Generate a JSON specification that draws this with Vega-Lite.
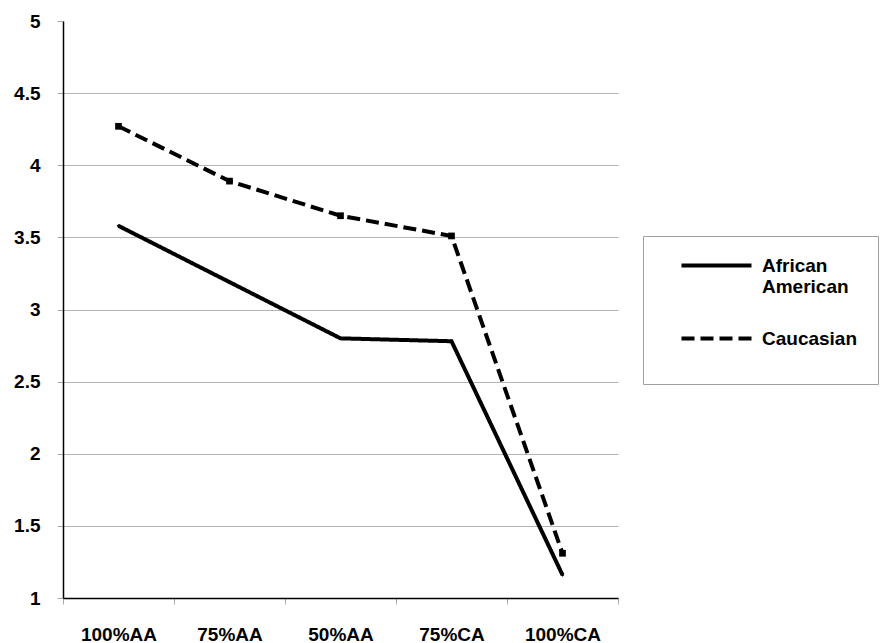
{
  "$schema": "https://vega.github.io/schema/vega-lite/v6.json",
  "width": 555,
  "height": 577,
  "autosize": {"type": "none"},
  "padding": {"left": 63, "top": 21, "right": 271, "bottom": 45},
  "background": "white",
  "config": {
    "font": "Liberation Sans",
    "view": {"stroke": null},
    "axis": {
      "labelFont": "Liberation Sans",
      "labelFontWeight": "bold",
      "labelFontSize": 19,
      "labelColor": "black",
      "domainColor": "black",
      "domainWidth": 1.5,
      "tickColor": "#aaaaaa",
      "tickSize": 6,
      "title": null
    }
  },
  "data": {
    "values": [
      {"condition": "100%AA", "group": "African American", "score": 3.58},
      {"condition": "75%AA", "group": "African American", "score": 3.19},
      {"condition": "50%AA", "group": "African American", "score": 2.80},
      {"condition": "75%CA", "group": "African American", "score": 2.78},
      {"condition": "100%CA", "group": "African American", "score": 1.16},
      {"condition": "100%AA", "group": "Caucasian", "score": 4.27},
      {"condition": "75%AA", "group": "Caucasian", "score": 3.89},
      {"condition": "50%AA", "group": "Caucasian", "score": 3.65},
      {"condition": "75%CA", "group": "Caucasian", "score": 3.51},
      {"condition": "100%CA", "group": "Caucasian", "score": 1.31}
    ]
  },
  "encoding": {
    "x": {
      "field": "condition",
      "type": "nominal",
      "sort": ["100%AA", "75%AA", "50%AA", "75%CA", "100%CA"],
      "scale": {"paddingInner": 0, "paddingOuter": 0},
      "axis": {
        "labelAngle": 0,
        "tickBand": "extent",
        "labelPadding": 21,
        "domainColor": "black"
      }
    },
    "y": {
      "field": "score",
      "type": "quantitative",
      "scale": {"domain": [1, 5], "nice": false, "zero": false},
      "axis": {
        "values": [1, 1.5, 2, 2.5, 3, 3.5, 4, 4.5, 5],
        "format": "~g",
        "labelPadding": 17,
        "grid": true,
        "gridColor": "#b4b4b4",
        "gridWidth": 1.2,
        "gridOpacity": {"condition": {"test": "datum.value == 5 || datum.value == 1", "value": 0}, "value": 1}
      }
    }
  },
  "layer": [
    {
      "mark": {"type": "line", "color": "black", "strokeWidth": 4, "strokeCap": "butt"},
      "encoding": {
        "strokeDash": {
          "field": "group",
          "type": "nominal",
          "scale": {"domain": ["African American", "Caucasian"], "range": [[1, 0], [13, 6]]},
          "legend": {
            "title": " ",
            "titleOrient": "bottom",
            "titleFontSize": 12,
            "titlePadding": 4,
            "orient": "none",
            "legendX": 580,
            "legendY": 215,
            "strokeColor": "#a0a0a0",
            "fillColor": "white",
            "padding": 20,
            "symbolType": "M-5,0H5",
            "symbolSize": 196,
            "symbolStrokeWidth": 4,
            "symbolStrokeColor": "black",
            "symbolOffset": 44,
            "labelFont": "Liberation Sans",
            "labelFontWeight": "bold",
            "labelFontSize": 19,
            "labelColor": "black",
            "labelOffset": 36,
            "labelLimit": 300,
            "rowPadding": 32,
            "labelExpr": "datum.label == 'African American' ? ['African', 'American'] : datum.label"
          }
        }
      }
    },
    {
      "mark": {"type": "point", "filled": true, "color": "black", "opacity": 1},
      "encoding": {
        "shape": {
          "condition": {"test": "datum.group == 'Caucasian'", "value": "square"},
          "value": "diamond"
        },
        "size": {
          "condition": {"test": "datum.group == 'Caucasian'", "value": 45},
          "value": 14
        }
      }
    }
  ]
}
